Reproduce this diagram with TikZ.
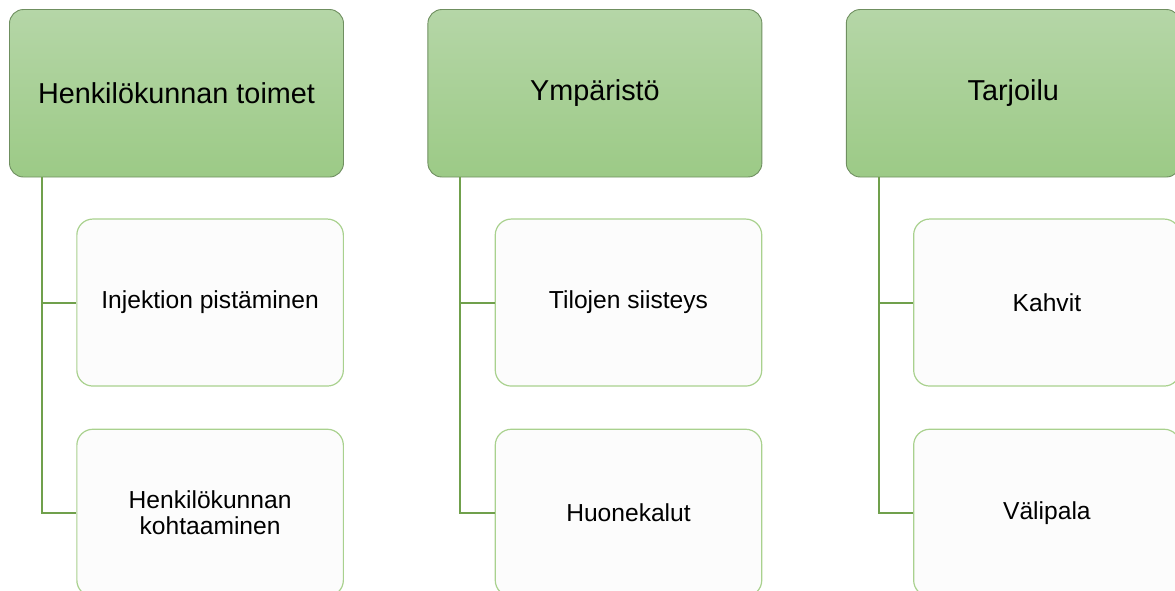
\documentclass[tikz,border=0pt]{standalone}
\usepackage{fontspec}
\setmainfont{Liberation Sans}
\usetikzlibrary{positioning}
\definecolor{hdtop}{HTML}{B5D6A7}
\definecolor{hdbot}{HTML}{9CCA86}
\definecolor{hdline}{HTML}{6F8F60}
\definecolor{chline}{HTML}{A9D18E}
\definecolor{chfill}{HTML}{FCFCFC}
\definecolor{linkc}{HTML}{70A04C}
\begin{document}
\begin{tikzpicture}[x=1pt, y=-1pt,
    every node/.style={node distance=83.5pt, rectangle, inner sep=0pt},
    head/.style={draw=hdline, line width=0.9pt, rounded corners=14pt, top color=hdtop, bottom color=hdbot, minimum width=334pt, minimum height=167.5pt, font=\fontsize{28.8}{32}\selectfont},
    child/.style={draw=chline, line width=1.2pt, rounded corners=16pt, fill=chfill, minimum width=266.5pt, minimum height=167pt, align=center, font=\fontsize{24.6}{25.5}\selectfont},
    link/.style={draw=linkc, line width=2pt}]
    
    \path[use as bounding box, clip] (0,0) rectangle (1175,590);
    
    \node[head] at (176.5,93.25) (hd1) {Henkilökunnan toimet};
    \node[head, right=of hd1] (hd2) {Ympäristö};
    \node[head, right=of hd2] (hd3) {Tarjoilu};
    
    \node[child, below=41pt of hd1.south east, anchor=north east] (c11) {Injektion pistäminen};
    \node[child, below=42pt of c11] (c12) {Henkilökunnan\\kohtaaminen};
    \node[child, below=41pt of hd2.south east, anchor=north east] (c21) {Tilojen siisteys};
    \node[child, below=42pt of c21] (c22) {Huonekalut};
    \node[child, below=41pt of hd3.south east, anchor=north east] (c31) {Kahvit};
    \node[child, below=42pt of c31] (c32) {Välipala};
    
    \coordinate (t1) at ([xshift=33pt]hd1.south west);
    \coordinate (t2) at ([xshift=33pt]hd2.south west);
    \coordinate (t3) at ([xshift=33pt]hd3.south west);
    
    \draw[link] (t1) |- (c11.west);
    \draw[link] (t1) |- (c12.west);
    \draw[link] (t2) |- (c21.west);
    \draw[link] (t2) |- (c22.west);
    \draw[link] (t3) |- (c31.west);
    \draw[link] (t3) |- (c32.west);
\end{tikzpicture}
\end{document}
